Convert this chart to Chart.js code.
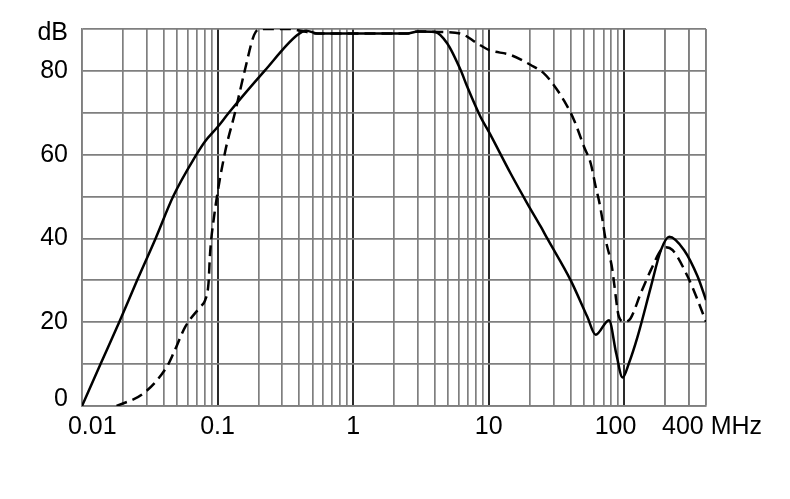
<!DOCTYPE html>
<html>
<head>
<meta charset="utf-8">
<script src="https://cdn.jsdelivr.net/npm/chart.js@4.4.1/dist/chart.umd.min.js"></script>
<style>
  html, body { margin: 0; padding: 0; background: #ffffff; }
  canvas { display: block; }
</style>
</head>
<body>
<canvas id="c" width="790" height="499"></canvas>
<script>
// ---- data (frequency in MHz, level in dB) ----
const solidFreq = [0.01, 0.0137, 0.0188, 0.0255, 0.0349, 0.047, 0.0698, 0.0805, 0.1, 0.121, 0.222, 0.385, 0.45, 0.55, 2.5, 3.0, 4.0, 4.93, 6.2, 6.94, 8.7, 10, 14.5, 19.2, 24.2, 27, 40.2, 53.3, 61.5, 77, 87, 97, 108, 125, 157, 186, 214, 276, 347, 400];
const solidDb   = [0, 10, 20, 30, 40, 50, 60, 63.1, 66.6, 70, 80, 88.5, 89.6, 88.9, 88.9, 89.4, 89.3, 86.6, 80.2, 76.2, 69, 65.5, 55.5, 48.4, 42.8, 40, 30, 21.3, 17, 20.5, 12.6, 6.8, 10.2, 16.5, 28.5, 37.2, 40.4, 37.2, 30.9, 25.3];

const dashFreq = [0.018, 0.0284, 0.0423, 0.0473, 0.0577, 0.0745, 0.081, 0.0857, 0.088, 0.094, 0.113, 0.134, 0.159, 0.186, 0.205, 0.34, 0.42, 0.55, 2.5, 3.0, 4.3, 6.2, 8.2, 10, 14.5, 20.4, 25.5, 30.2, 35.9, 42.5, 50.4, 56.5, 61.5, 65, 69, 72, 81.6, 84, 91.2, 100, 111, 132, 157, 186, 202, 227, 293, 347, 400];
const dashDb   = [0, 3.0, 9.4, 12.6, 18.9, 23.7, 25.3, 29.3, 36.4, 45, 60.3, 69.9, 80.2, 88.6, 90, 90, 89.5, 88.9, 88.9, 89.4, 89.3, 88.9, 86.6, 85, 83.8, 81.4, 79.4, 76.6, 72.9, 68.3, 61.9, 57.9, 52.3, 49, 44.4, 40.5, 32.5, 29.3, 21.3, 20.1, 20.9, 26.9, 32.5, 37.2, 37.9, 37.2, 30.9, 25.3, 20.1];

// ---- axes ----
const xMin = 0.01, xMax = 400;
const xDecades = [0.01, 0.1, 1, 10, 100];
const xMultipliers = [1, 2, 3, 4, 5, 6, 7, 8, 9];
const xDarkLines = [0.1, 1, 10, 100];
const xLabelTexts = ['0.01', '0.1', '1', '10', '100', '400 MHz'];
const xLabelAt    = [0.0119, 0.1, 1, 10, 86, 443];

const yMin = 0, yMax = 90;
const yGridValues = [0, 10, 20, 30, 40, 50, 60, 70, 80, 90];
const yLabelTexts = ['0', '20', '40', '60', '80', 'dB'];
const yLabelAt    = [1.6, 20, 40, 60, 80, 89];

const same = (a, b) => Math.abs(Math.log10(a) - Math.log10(b)) < 1e-6;

// x tick meta: gridlines + labels
let xMeta = [];
xDecades.forEach(d => xMultipliers.forEach(m => {
  const v = +(d * m).toPrecision(6);
  if (v <= xMax + 1e-9) xMeta.push({ value: v, grid: true, label: '' });
}));
[200, 300, 400].forEach(v => xMeta.push({ value: v, grid: true, label: '' }));
xLabelAt.forEach((v, i) => {
  const hit = xMeta.find(t => same(t.value, v));
  if (hit) hit.label = xLabelTexts[i];
  else xMeta.push({ value: v, grid: false, label: xLabelTexts[i] });
});
xMeta.sort((a, b) => a.value - b.value);
xMeta.forEach(t => { t.dark = xDarkLines.some(d => same(d, t.value)); });

let yMeta = yGridValues.map(v => ({ value: v, grid: true, label: '' }));
yLabelAt.forEach((v, i) => {
  const hit = yMeta.find(t => Math.abs(t.value - v) < 1e-9);
  if (hit) hit.label = yLabelTexts[i];
  else yMeta.push({ value: v, grid: false, label: yLabelTexts[i] });
});
yMeta.sort((a, b) => a.value - b.value);

const GRID = '#7f7f7f';
const DARK = '#2a2a2a';
const FONT = { family: "'Liberation Sans', Arial, Helvetica, sans-serif", size: 25 };

new Chart(document.getElementById('c'), {
  type: 'line',
  data: {
    datasets: [
      {
        data: solidFreq.map((f, i) => ({ x: f, y: solidDb[i] })),
        borderColor: '#000', borderWidth: 2.5, pointRadius: 0,
        cubicInterpolationMode: 'monotone', fill: false
      },
      {
        data: dashFreq.map((f, i) => ({ x: f, y: dashDb[i] })),
        borderColor: '#000', borderWidth: 2.5, borderDash: [11, 6], pointRadius: 0,
        cubicInterpolationMode: 'monotone', fill: false
      }
    ]
  },
  options: {
    responsive: false,
    animation: false,
    devicePixelRatio: 1,
    layout: { padding: { left: 32, right: 84, top: 29, bottom: 53 } },
    plugins: { legend: { display: false }, tooltip: { enabled: false } },
    scales: {
      x: {
        type: 'logarithmic', min: xMin, max: xMax,
        afterBuildTicks: s => { s.ticks = xMeta.map(t => ({ value: t.value })); },
        afterFit: s => { s.height = 40; },
        ticks: {
          autoSkip: false, maxRotation: 0, minRotation: 0, padding: 6,
          color: '#000', font: FONT,
          callback: (v, i) => xMeta[i] ? xMeta[i].label : ''
        },
        grid: {
          drawTicks: false,
          color: ctx => { const t = xMeta[ctx.index]; return !t || !t.grid ? 'rgba(0,0,0,0)' : (t.dark ? DARK : GRID); },
          lineWidth: ctx => { const t = xMeta[ctx.index]; return t && t.dark ? 2 : 1.7; }
        },
        border: { display: true, color: GRID, width: 1.7 }
      },
      y: {
        type: 'linear', min: yMin, max: yMax,
        afterBuildTicks: s => { s.ticks = yMeta.map(t => ({ value: t.value })); },
        afterFit: s => { s.width = 50; },
        ticks: {
          autoSkip: false, padding: 14, color: '#000', font: FONT,
          callback: (v, i) => yMeta[i] ? yMeta[i].label : ''
        },
        grid: {
          drawTicks: false,
          color: ctx => { const t = yMeta[ctx.index]; return !t || !t.grid ? 'rgba(0,0,0,0)' : GRID; },
          lineWidth: 1.7
        },
        border: { display: true, color: GRID, width: 1.7 }
      }
    }
  }
});
</script>
</body>
</html>
